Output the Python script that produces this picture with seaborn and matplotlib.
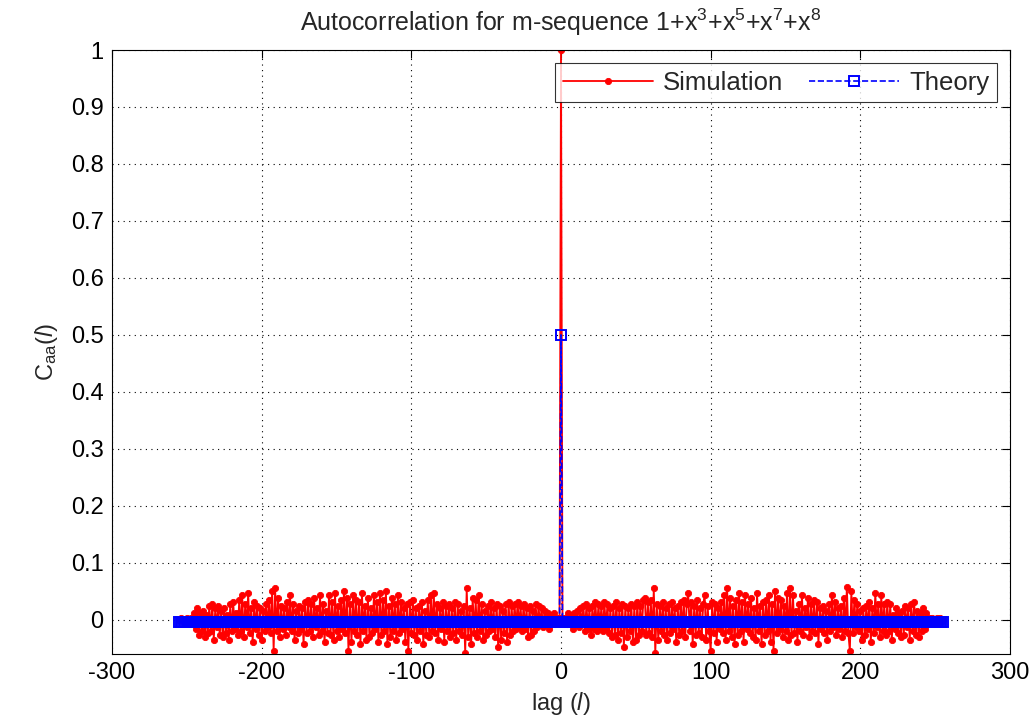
import numpy as np
import pandas as pd
import matplotlib
matplotlib.use("Agg")
import matplotlib.pyplot as plt
import seaborn as sns

# ---- data ----
lags = np.arange(-255, 256)

sim_neg = [
    0.0, 0.004, 0.0, -0.004, 0.0, 0.004, -0.004, 0.0, 0.004, -0.008,
    0.012, -0.016, 0.02, -0.027, 0.012, -0.02, 0.016, -0.031, 0.008, -0.024,
    0.024, -0.02, 0.027, -0.035, 0.02, -0.012, 0.024, -0.027, 0.016, -0.031,
    0.02, -0.024, 0.008, -0.035, 0.027, -0.02, 0.031, -0.016, 0.012, -0.027,
    0.035, -0.02, 0.043, -0.031, 0.027, -0.012, 0.047, -0.024, 0.02, -0.039,
    0.031, -0.016, 0.024, -0.027, 0.02, -0.035, 0.016, -0.02, 0.027, -0.012,
    0.035, -0.024, 0.051, -0.055, 0.055, -0.02, 0.039, -0.031, 0.024, -0.016,
    0.02, -0.027, 0.031, -0.012, 0.043, -0.02, 0.027, -0.035, 0.016, -0.024,
    0.024, -0.016, 0.02, -0.043, 0.031, -0.024, 0.035, -0.02, 0.027, -0.031,
    0.039, -0.012, 0.02, -0.027, 0.043, -0.02, 0.027, -0.039, 0.016, -0.024,
    0.043, -0.027, 0.031, -0.035, 0.047, -0.02, 0.024, -0.031, 0.035, -0.016,
    0.051, -0.024, 0.039, -0.055, 0.027, -0.039, 0.043, -0.02, 0.035, -0.027,
    0.031, -0.043, 0.047, -0.02, 0.024, -0.035, 0.039, -0.031, 0.02, -0.024,
    0.043, -0.016, 0.031, -0.039, 0.047, -0.027, 0.035, -0.02, 0.051, -0.043,
    0.024, -0.031, 0.039, -0.02, 0.027, -0.035, 0.043, -0.024, 0.031, -0.016,
    0.02, -0.039, 0.027, -0.055, 0.031, -0.024, 0.035, -0.027, 0.02, -0.035,
    0.024, -0.02, 0.031, -0.043, 0.016, -0.027, 0.035, -0.031, 0.043, -0.02,
    0.047, -0.024, 0.027, -0.035, 0.02, -0.016, 0.031, -0.039, 0.024, -0.02,
    0.027, -0.031, 0.02, -0.024, 0.031, -0.035, 0.027, -0.02, 0.016, -0.027,
    0.024, -0.059, 0.055, -0.031, 0.02, -0.043, 0.039, -0.024, 0.035, -0.031,
    0.043, -0.02, 0.027, -0.035, 0.016, -0.027, 0.024, -0.02, 0.031, -0.016,
    0.02, -0.031, 0.027, -0.047, 0.024, -0.035, 0.016, -0.024, 0.027, -0.039,
    0.031, -0.027, 0.024, -0.02, 0.027, -0.016, 0.031, -0.012, 0.024, -0.02,
    0.027, -0.016, 0.02, -0.031, 0.024, -0.027, 0.016, -0.02, 0.027, -0.012,
    0.024, -0.008, 0.02, -0.012, 0.016, -0.008, 0.012, -0.016, 0.008, -0.004,
    0.012, -0.008, 0.004, -0.004, 0.004,
]
sim_peak = [1.0]
sim_pos = [
    0.004, -0.004, 0.004, -0.008, 0.012,
    -0.004, 0.008, -0.016, 0.012, -0.008, 0.016, -0.012, 0.02, -0.008, 0.024,
    -0.02, 0.027, -0.016, 0.02, -0.027, 0.024, -0.016, 0.031, -0.02, 0.027,
    -0.012, 0.024, -0.02, 0.031, -0.016, 0.027, -0.024, 0.02, -0.031, 0.024,
    -0.027, 0.031, -0.035, 0.02, -0.024, 0.027, -0.047, 0.024, -0.031, 0.02,
    -0.02, 0.027, -0.039, 0.024, -0.035, 0.031, -0.027, 0.024, -0.02, 0.035,
    0.039, -0.027, 0.031, -0.024, 0.035, -0.031, 0.055, -0.059, 0.027, -0.035,
    0.024, -0.02, 0.031, -0.027, 0.02, -0.035, 0.027, -0.024, 0.031, -0.016,
    0.02, -0.039, 0.024, -0.027, 0.031, -0.02, 0.035, -0.031, 0.027, 0.047,
    -0.02, 0.031, -0.043, 0.024, -0.027, 0.035, -0.024, 0.02, -0.031, 0.027,
    0.043, -0.035, 0.024, -0.02, -0.055, 0.031, -0.024, 0.027, -0.039, 0.02,
    -0.016, 0.031, -0.024, 0.043, -0.035, 0.055, -0.02, 0.039, -0.031, 0.024,
    -0.043, 0.035, -0.027, 0.047, -0.02, 0.031, -0.039, 0.043, -0.016, 0.027,
    -0.024, 0.039, -0.031, 0.02, -0.035, 0.047, -0.02, 0.024, -0.043, 0.031,
    -0.027, 0.035, -0.02, 0.043, -0.039, 0.027, -0.055, 0.051, -0.024, 0.039,
    -0.016, 0.035, -0.031, 0.024, -0.02, 0.047, -0.035, 0.055, -0.027, 0.043,
    -0.024, 0.016, -0.039, 0.027, -0.02, 0.043, -0.027, 0.02, -0.012, 0.039,
    -0.031, 0.027, -0.02, 0.035, -0.024, 0.031, -0.043, 0.02, -0.016, 0.024,
    -0.024, 0.016, -0.035, 0.027, -0.02, 0.043, -0.012, 0.031, -0.027, 0.02,
    -0.016, 0.024, -0.031, 0.039, -0.02, 0.058, -0.024, -0.055, 0.051, -0.024,
    0.035, -0.012, 0.027, -0.02, 0.016, -0.035, 0.02, -0.027, 0.024, -0.016,
    0.031, -0.039, 0.02, -0.024, 0.047, -0.012, 0.027, -0.031, 0.043, -0.02,
    0.027, -0.027, 0.031, -0.02, 0.027, -0.035, 0.008, -0.016, 0.02, -0.024,
    0.012, -0.031, 0.016, -0.027, 0.024, -0.012, 0.02, -0.035, 0.027, -0.02,
    0.031, -0.027, 0.016, -0.031, 0.012, -0.02, 0.02, -0.016, 0.012, -0.008,
    0.004, -0.004, 0.004, 0.0, -0.004, 0.004, 0.0, 0.004, -0.004, 0.0,
]
simulation = np.array(sim_neg + sim_peak + sim_pos)

theory_peak = 0.5
theory_offpeak = -0.004
theory = np.where(lags == 0, theory_peak, theory_offpeak)

x_ticks = [-300, -200, -100, 0, 100, 200, 300]
y_ticks = [0, 0.1, 0.2, 0.3, 0.4, 0.5, 0.6, 0.7, 0.8, 0.9, 1]
y_tick_labels = ["0", "0.1", "0.2", "0.3", "0.4", "0.5", "0.6", "0.7", "0.8", "0.9", "1"]

df = pd.DataFrame({"lag": lags, "Simulation": simulation, "Theory": theory})

# ---- style ----
sns.set_style("white")
plt.rcParams["font.family"] = ["Liberation Sans", "DejaVu Sans"]
plt.rcParams["mathtext.fontset"] = "custom"
plt.rcParams["mathtext.rm"] = "Liberation Sans"
plt.rcParams["mathtext.it"] = "Liberation Sans:italic"

fig = plt.figure(figsize=(10.36, 7.18), dpi=100)
ax = fig.add_axes([112 / 1036, 1 - 654 / 718, (1010 - 112) / 1036, (654 - 50) / 718])

sns.lineplot(data=df, x="lag", y="Simulation", ax=ax, color="red", lw=1.3,
             marker="o", markersize=4.5, markeredgewidth=0.6,
             markeredgecolor="red", markerfacecolor="red",
             label="Simulation", sort=False)
sns.lineplot(data=df, x="lag", y="Theory", ax=ax, color="blue", lw=1.2,
             linestyle="--", marker="s", markersize=7, markeredgewidth=1.4,
             markeredgecolor="blue", markerfacecolor="none",
             label="Theory", sort=False)

ax.set_xlim(-300, 300)
ax.set_ylim(-0.06, 1)
ax.set_xticks(x_ticks)
ax.set_yticks(y_ticks)
ax.set_xticklabels([str(t) for t in x_ticks])
ax.set_yticklabels(y_tick_labels)
ax.tick_params(direction="in", length=6, width=0.8, labelsize=17, top=True, right=True,
               colors="black", pad=6)
ax.grid(True, linestyle=(0, (1, 4)), color="black", lw=0.8)
for s in ax.spines.values():
    s.set_visible(True)
    s.set_color("black")
    s.set_linewidth(0.8)

ax.set_title(r"Autocorrelation for m-sequence 1+x$^{3}$+x$^{5}$+x$^{7}$+x$^{8}$",
             fontsize=18, pad=14)
ax.set_xlabel(r"lag ($\it{l}$)", fontsize=17, labelpad=4)
ax.set_ylabel(r"C$_{\rm aa}$($\it{l}$)", fontsize=17, labelpad=8)

leg = ax.legend(loc="upper right", ncol=2, fontsize=18.5, frameon=True, fancybox=False,
                handlelength=3.5, columnspacing=1.0, borderpad=0.3,
                handletextpad=0.4, borderaxespad=0.5)
leg.get_frame().set_edgecolor("black")
leg.get_frame().set_linewidth(0.8)

fig.savefig("out.png", dpi=100)
